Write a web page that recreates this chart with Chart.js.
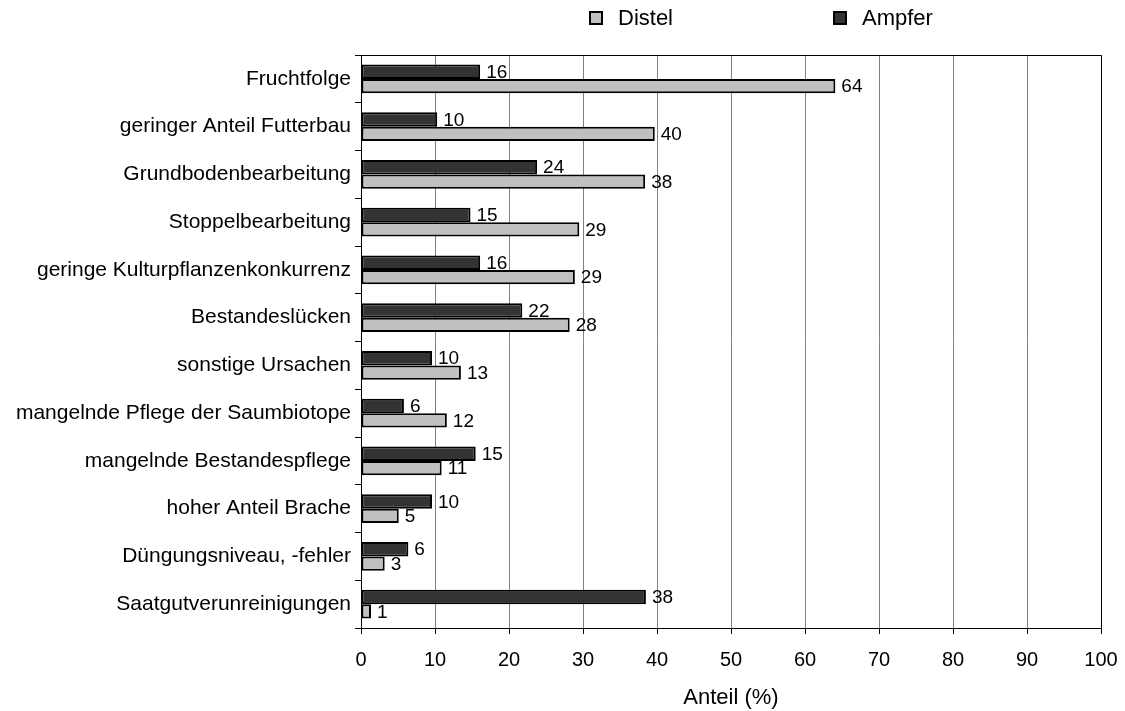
<!DOCTYPE html>
<html><head><meta charset="utf-8">
<script src="https://cdn.jsdelivr.net/npm/chart.js@4"></script>
<style>html,body{margin:0;padding:0;background:#fff}#wrap{width:1125px;height:711px}</style>
</head><body><div id="wrap"><canvas id="c" width="1125" height="711"></canvas></div>
<script>
const categories = ["Fruchtfolge", "geringer Anteil Futterbau", "Grundbodenbearbeitung", "Stoppelbearbeitung", "geringe Kulturpflanzenkonkurrenz", "Bestandeslücken", "sonstige Ursachen", "mangelnde Pflege der Saumbiotope", "mangelnde Bestandespflege", "hoher Anteil Brache", "Düngungsniveau, -fehler", "Saatgutverunreinigungen"];
const ampferValues = [16.1, 10.3, 23.8, 14.8, 16.1, 21.8, 9.6, 5.8, 15.5, 9.6, 6.4, 38.5];
const distelValues = [64.1, 39.7, 38.4, 29.5, 28.9, 28.2, 13.5, 11.6, 10.9, 5.1, 3.2, 1.35];
const ampferLabels = [16, 10, 24, 15, 16, 22, 10, 6, 15, 10, 6, 38];
const distelLabels = [64, 40, 38, 29, 29, 28, 13, 12, 11, 5, 3, 1];
const xTicks = [0, 10, 20, 30, 40, 50, 60, 70, 80, 90, 100];
const legendOrder = ["Distel", "Ampfer"];

const FONT = '"Liberation Sans", Arial, Helvetica, sans-serif';

const labelPlugin = {
  id: 'valueLabels',
  afterDatasetsDraw(chart) {
    const ctx = chart.ctx;
    ctx.save();
    ctx.font = '19px ' + FONT;
    ctx.fillStyle = '#000';
    ctx.textBaseline = 'middle';
    ctx.textAlign = 'left';
    chart.data.datasets.forEach((ds, di) => {
      const meta = chart.getDatasetMeta(di);
      meta.data.forEach((el, i) => {
        ctx.fillText(String(ds.valueLabels[i]), el.x + 6, el.y + 1);
      });
    });
    ctx.restore();
  }
};

const framePlugin = {
  id: 'frame',
  afterDatasetsDraw(chart) {
    const a = chart.chartArea, ctx = chart.ctx;
    ctx.save();
    ctx.strokeStyle = '#000';
    ctx.lineWidth = 1;
    ctx.beginPath();
    ctx.moveTo(a.left, a.top + 0.5);
    ctx.lineTo(a.right + 0.5, a.top + 0.5);
    ctx.lineTo(a.right + 0.5, a.bottom);
    ctx.stroke();
    ctx.restore();
  }
};

const legendPlugin = {
  id: 'customLegend',
  afterDraw(chart) {
    const ctx = chart.ctx;
    const positions = [589, 833];
    ctx.save();
    ctx.font = '22px ' + FONT;
    ctx.textBaseline = 'middle';
    ctx.textAlign = 'left';
    legendOrder.forEach((name, k) => {
      const ds = chart.data.datasets.find(d => d.label === name);
      const x = positions[k], y = 11;
      ctx.fillStyle = ds.backgroundColor;
      ctx.fillRect(x, y, 14, 14);
      ctx.strokeStyle = '#000';
      ctx.lineWidth = 2;
      ctx.strokeRect(x + 1, y + 1, 12, 12);
      ctx.fillStyle = '#000';
      ctx.fillText(name, x + 29, y + 8);
    });
    ctx.restore();
  }
};

new Chart(document.getElementById('c'), {
  type: 'bar',
  data: {
    labels: categories,
    datasets: [
      { label: 'Ampfer', data: ampferValues, valueLabels: ampferLabels, backgroundColor: '#333333', borderColor: '#000', borderWidth: 2, borderSkipped: false, categoryPercentage: 0.6, barPercentage: 1.0 },
      { label: 'Distel', data: distelValues, valueLabels: distelLabels, backgroundColor: '#c0c0c0', borderColor: '#000', borderWidth: 2, borderSkipped: false, categoryPercentage: 0.6, barPercentage: 1.0 }
    ]
  },
  options: {
    indexAxis: 'y',
    responsive: false,
    animation: false,
    layout: { padding: { top: 55, right: 24, left: 0, bottom: 0 } },
    plugins: { legend: { display: false }, tooltip: { enabled: false } },
    scales: {
      x: {
        min: 0, max: 100,
        afterBuildTicks(scale) { scale.ticks = xTicks.map(v => ({ value: v })); },
        afterFit(scale) { scale.height = 83; scale.paddingLeft = 0; scale.paddingRight = 0; },
        ticks: { color: '#000', font: { family: FONT, size: 20 }, padding: 14, maxRotation: 0 },
        grid: { color: '#808080', lineWidth: 1, tickColor: '#000', tickLength: 6 },
        border: { color: '#000', width: 1 },
        title: { display: true, text: 'Anteil (%)', color: '#000', font: { family: FONT, size: 22 }, padding: { top: 0, bottom: 0 } }
      },
      y: {
        afterFit(scale) { scale.width = 361; scale.paddingTop = 0; scale.paddingBottom = 0; },
        ticks: { color: '#000', font: { family: FONT, size: 21 }, padding: 4, autoSkip: false },
        grid: { offset: true, drawOnChartArea: false, color: '#000', tickLength: 6 },
        border: { color: '#000', width: 1 }
      }
    }
  },
  plugins: [labelPlugin, framePlugin, legendPlugin]
});
</script></body></html>
